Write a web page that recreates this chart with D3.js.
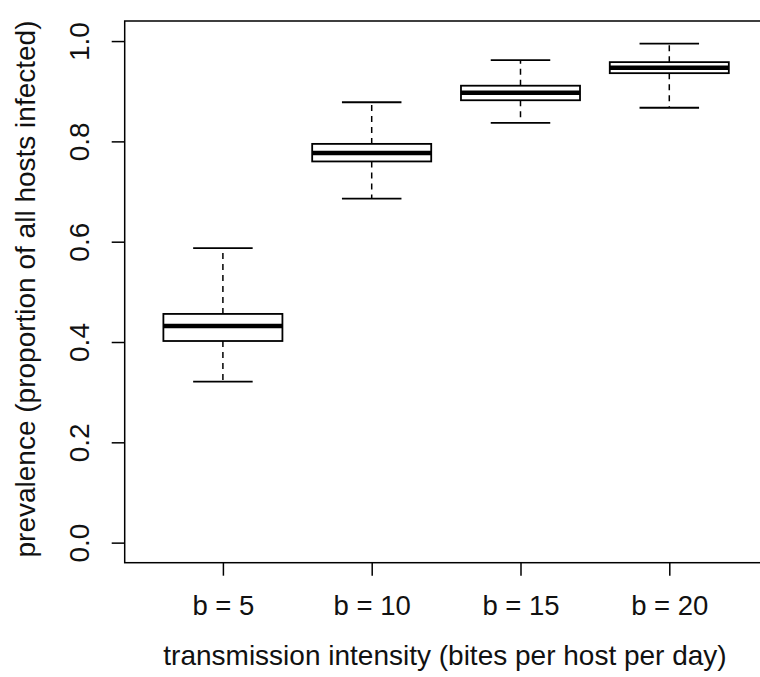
<!DOCTYPE html>
<html>
<head>
<meta charset="utf-8">
<script src="https://cdn.jsdelivr.net/npm/d3@7"></script>
<style>
  body { margin: 0; background: #fff; }
  svg { display: block; font-family: "Liberation Sans", Arial, sans-serif; }
  .lbl { font-size: 28px; fill: #111; }
  .tlbl { font-size: 27.5px; fill: #111; }
</style>
</head>
<body>
<svg id="chart" width="760" height="677"></svg>
<script>
// values
var categories = ["b = 5", "b = 10", "b = 15", "b = 20"];
var whiskerLow = [0.321, 0.686, 0.837, 0.867];
var q1 = [0.402, 0.760, 0.882, 0.936];
var median = [0.432, 0.777, 0.897, 0.947];
var q3 = [0.456, 0.795, 0.911, 0.958];
var whiskerHigh = [0.587, 0.878, 0.962, 0.995];
var yTicks = [0, 0.2, 0.4, 0.6, 0.8, 1.0];

var Config = {
  Left: 124.7,
  Right: 767.5,
  Top: 21,
  Bottom: 562.7,
  BoxWidth: 0.8,
  StapleWidth: 0.4,
  TickSize: 13
};

var svg = d3.select("#chart");

var x = d3.scaleLinear().domain([0.34, categories.length + 0.66]).range([Config.Left, Config.Right]);
var y = d3.scaleLinear().domain([-0.04, 1.04]).range([Config.Bottom, Config.Top]);

var boxes = categories.map(function (c, i) {
  return { name: c, pos: i + 1, lo: whiskerLow[i], q1: q1[i], med: median[i], q3: q3[i], hi: whiskerHigh[i] };
});

var g = svg.selectAll("g.box").data(boxes).enter().append("g").attr("class", "box");

// dashed whiskers
g.append("line")
  .attr("x1", function (d) { return x(d.pos); })
  .attr("x2", function (d) { return x(d.pos); })
  .attr("y1", function (d) { return y(d.q3); })
  .attr("y2", function (d) { return y(d.hi); })
  .attr("stroke", "#000").attr("stroke-width", 1.5).attr("stroke-dasharray", "6,5");
g.append("line")
  .attr("x1", function (d) { return x(d.pos); })
  .attr("x2", function (d) { return x(d.pos); })
  .attr("y1", function (d) { return y(d.q1); })
  .attr("y2", function (d) { return y(d.lo); })
  .attr("stroke", "#000").attr("stroke-width", 1.5).attr("stroke-dasharray", "6,5");

// staples
["lo", "hi"].forEach(function (k) {
  g.append("line")
    .attr("x1", function (d) { return x(d.pos - Config.StapleWidth / 2); })
    .attr("x2", function (d) { return x(d.pos + Config.StapleWidth / 2); })
    .attr("y1", function (d) { return y(d[k]); })
    .attr("y2", function (d) { return y(d[k]); })
    .attr("stroke", "#000").attr("stroke-width", 1.8);
});

// box
g.append("rect")
  .attr("x", function (d) { return x(d.pos - Config.BoxWidth / 2); })
  .attr("width", function (d) { return x(d.pos + Config.BoxWidth / 2) - x(d.pos - Config.BoxWidth / 2); })
  .attr("y", function (d) { return y(d.q3); })
  .attr("height", function (d) { return y(d.q1) - y(d.q3); })
  .attr("fill", "#fff").attr("stroke", "#000").attr("stroke-width", 1.8);

// median
g.append("line")
  .attr("x1", function (d) { return x(d.pos - Config.BoxWidth / 2); })
  .attr("x2", function (d) { return x(d.pos + Config.BoxWidth / 2); })
  .attr("y1", function (d) { return y(d.med); })
  .attr("y2", function (d) { return y(d.med); })
  .attr("stroke", "#000").attr("stroke-width", 4.5);

// y axis
var yAxis = svg.append("g")
  .attr("transform", "translate(" + Config.Left + ",0)")
  .call(d3.axisLeft(y).tickValues(yTicks).tickSize(Config.TickSize).tickFormat(d3.format(".1f")));
yAxis.select(".domain").remove();
yAxis.selectAll(".tick line").attr("stroke", "#000").attr("stroke-width", 1.5);
yAxis.selectAll(".tick text")
  .attr("class", "lbl")
  .attr("transform", "rotate(-90)")
  .attr("x", 0).attr("y", -35.5).attr("dy", 0)
  .attr("text-anchor", "middle");
yAxis.attr("font-size", null).attr("font-family", null);

// x axis
var xAxis = svg.append("g")
  .attr("transform", "translate(0," + Config.Bottom + ")")
  .call(d3.axisBottom(x).tickValues(boxes.map(function (d) { return d.pos; }))
    .tickSize(Config.TickSize).tickFormat(function (v) { return categories[v - 1]; }));
xAxis.select(".domain").remove();
xAxis.selectAll(".tick line").attr("stroke", "#000").attr("stroke-width", 1.5);
xAxis.selectAll(".tick text").attr("class", "tlbl").attr("y", 52).attr("dy", 0);
xAxis.attr("font-size", null).attr("font-family", null);

// frame
svg.append("rect")
  .attr("x", Config.Left).attr("y", Config.Top)
  .attr("width", Config.Right - Config.Left).attr("height", Config.Bottom - Config.Top)
  .attr("fill", "none").attr("stroke", "#000").attr("stroke-width", 1.5);

// axis titles
svg.append("text").attr("class", "lbl")
  .attr("x", 445).attr("y", 665)
  .attr("text-anchor", "middle")
  .text("transmission intensity (bites per host per day)");

svg.append("text").attr("class", "lbl")
  .attr("transform", "translate(35,289) rotate(-90)")
  .attr("text-anchor", "middle")
  .text("prevalence (proportion of all hosts infected)");
</script>
</body>
</html>
